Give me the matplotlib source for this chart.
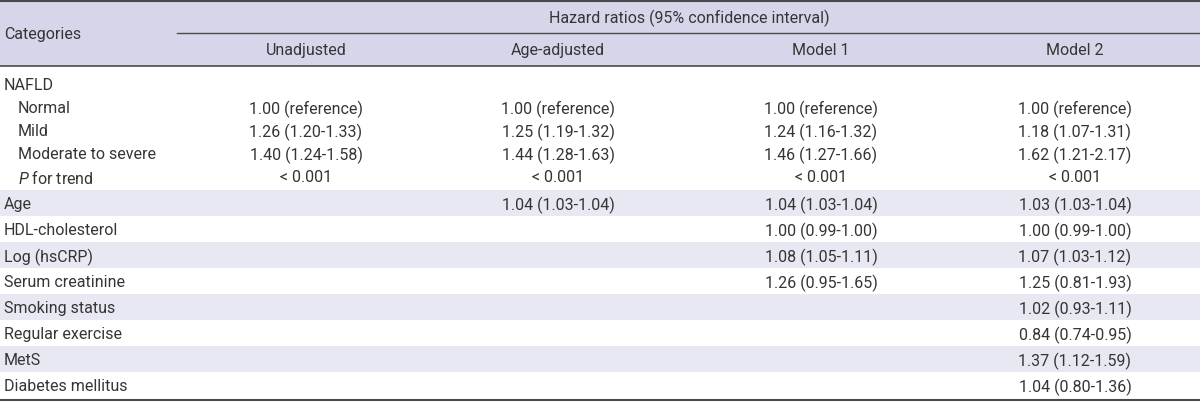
import matplotlib
matplotlib.use("Agg")
import matplotlib.pyplot as plt
from matplotlib import font_manager

# ---- data ----
header_group = "Hazard ratios (95% confidence interval)"
col_title = "Categories"
columns = ["Unadjusted", "Age-adjusted", "Model 1", "Model 2"]

row_labels = ["NAFLD", "Normal", "Mild", "Moderate to severe", "$P$ for trend",
              "Age", "HDL-cholesterol", "Log (hsCRP)", "Serum creatinine",
              "Smoking status", "Regular exercise", "MetS", "Diabetes mellitus"]
row_indent = [0, 1, 1, 1, 1, 0, 0, 0, 0, 0, 0, 0, 0]
row_shaded = [0, 0, 0, 0, 0, 1, 0, 1, 0, 1, 0, 1, 0]

unadjusted = ["", "1.00 (reference)", "1.26 (1.20-1.33)", "1.40 (1.24-1.58)", "< 0.001",
              "", "", "", "", "", "", "", ""]
age_adjusted = ["", "1.00 (reference)", "1.25 (1.19-1.32)", "1.44 (1.28-1.63)", "< 0.001",
                "1.04 (1.03-1.04)", "", "", "", "", "", "", ""]
model1 = ["", "1.00 (reference)", "1.24 (1.16-1.32)", "1.46 (1.27-1.66)", "< 0.001",
          "1.04 (1.03-1.04)", "1.00 (0.99-1.00)", "1.08 (1.05-1.11)", "1.26 (0.95-1.65)",
          "", "", "", ""]
model2 = ["", "1.00 (reference)", "1.18 (1.07-1.31)", "1.62 (1.21-2.17)", "< 0.001",
          "1.03 (1.03-1.04)", "1.00 (0.99-1.00)", "1.07 (1.03-1.12)", "1.25 (0.81-1.93)",
          "1.02 (0.93-1.11)", "0.84 (0.74-0.95)", "1.37 (1.12-1.59)", "1.04 (0.80-1.36)"]
values = [unadjusted, age_adjusted, model1, model2]

# ---- style / layout ----
names = {f.name for f in font_manager.fontManager.ttflist}
fam = "Liberation Sans Narrow" if "Liberation Sans Narrow" in names else "Roboto"
plt.rcParams['font.family'] = [fam, 'DejaVu Sans']
plt.rcParams['mathtext.fontset'] = 'custom'
plt.rcParams['mathtext.rm'] = fam
plt.rcParams['mathtext.it'] = fam + ':italic'

W, H = 1200, 403
fig = plt.figure(figsize=(W / 100, H / 100), dpi=100)
ax = fig.add_axes([0, 0, 1, 1])
ax.set_xlim(0, W)
ax.set_ylim(H, 0)
ax.axis('off')

txt = '#353535'
line_c = '#4a4a4a'
head_bg = '#d6d6ea'
band_bg = '#e8e8f3'
fs = 11.5
va = 'center_baseline'

col_x = [306, 558, 821, 1075]
group_x = 689

# header
ax.axhspan(0, 66, color=head_bg, lw=0)
ax.plot([0, W], [1, 1], color=line_c, lw=1.5)
ax.plot([0, W], [66, 66], color=line_c, lw=1.2)
ax.plot([177, W], [33, 33], color=line_c, lw=1.0)
ax.plot([0, W], [400, 400], color=line_c, lw=1.5)
ax.text(4, 33, col_title, ha='left', va=va, color=txt, fontsize=fs)
ax.text(group_x, 16, header_group, ha='center', va=va, color=txt, fontsize=fs)
for x, c in zip(col_x, columns):
    ax.text(x, 49, c, ha='center', va=va, color=txt, fontsize=fs)

# row positions
y_rows = [84 + 23 * i for i in range(5)] + [203 + 26 * i for i in range(8)]

for i, (lab, ind, sh) in enumerate(zip(row_labels, row_indent, row_shaded)):
    yc = y_rows[i]
    if sh:
        ax.axhspan(yc - 13, yc + 13, color=band_bg, lw=0, zorder=0)
    ax.text(4 + 14 * ind, yc, lab, ha='left', va=va, color=txt, fontsize=fs)
    for x, col in zip(col_x, values):
        if col[i]:
            ax.text(x, yc, col[i], ha='center', va=va, color=txt, fontsize=fs)

fig.savefig('out.png', dpi=100)
